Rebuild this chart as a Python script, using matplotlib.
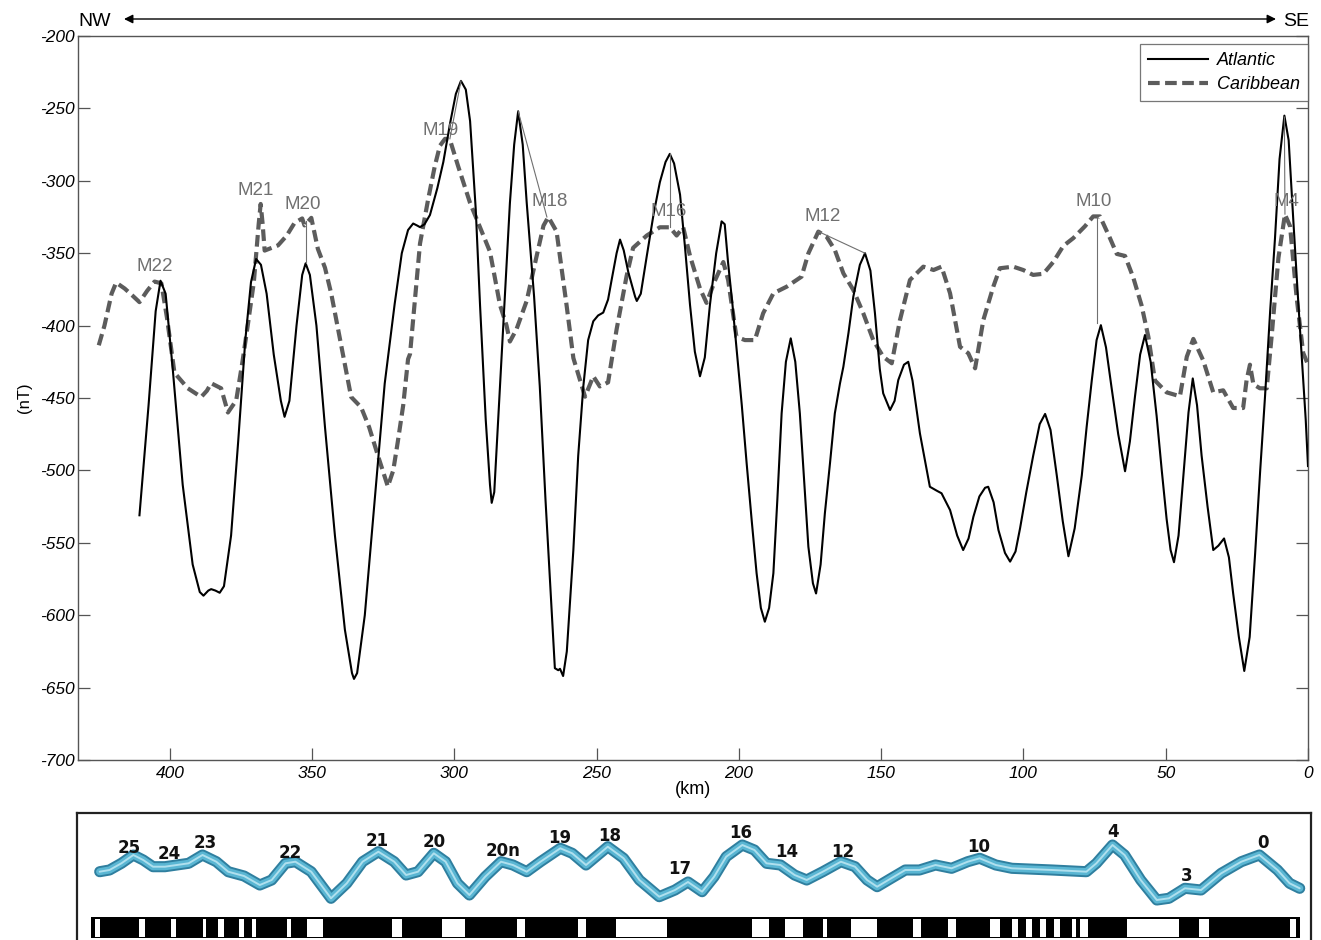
import matplotlib
matplotlib.use("Agg")
import matplotlib.pyplot as plt

# ---------------- data ----------------
atl_km = [410.7, 407.5, 405, 403.3, 401.5, 399, 395.5, 392, 389.5, 388.2, 386.5, 385.5, 384, 382.5, 381,
          378.5, 376, 373.5, 371.5, 369.7, 368, 366, 363.5, 361, 359.7, 358, 355.5, 353.5, 352.3, 350.8,
          348.5, 345.5, 342, 338.5, 336, 335.3, 334.2, 331.5, 328, 324.5, 321, 318.5, 316.3, 314.5, 313,
          312.1, 310.5, 308.6, 306, 303.9, 301.5, 299.5, 297.7, 296, 294.5, 292.5, 291, 289, 287.5, 286.9,
          286, 284, 282, 280.5, 279, 277.6, 276, 274.6, 272, 270, 268, 266, 264.7, 263.5, 262.9, 261.8,
          260.5, 258.2, 256.5, 254.7, 253, 251.2, 249.5, 247.7, 246, 244.8, 243, 241.8, 240.5, 238.9,
          236.5, 235.9, 234.5, 232.4, 230, 227.8, 225.8, 224.3, 222.8, 220.7, 219, 217.2, 215.5, 213.7,
          212, 210.2, 208, 206.1, 205, 203.8, 202.3, 200.9, 199, 197.3, 195.5, 193.8, 192.3, 190.9, 189.4,
          187.9, 186.5, 185, 183.5, 181.8, 180.2, 178.6, 177, 175.6, 174, 172.9, 171.3, 169.8, 168, 166.3,
          164.5, 163.3, 161.5, 159.8, 157.5, 155.7, 153.8, 152.2, 150.5, 149.3, 146.9, 145.3, 144, 142,
          140.5, 139, 136.4, 132.9, 130.5, 128.8, 125.8, 123.3, 121.2, 119.3, 117.6, 115.5, 113.5, 112.4,
          110.5, 108.8, 106.5, 104.7, 102.8, 101.2, 99, 96.6, 94.3, 92.4, 90.5, 88.3, 86.2, 84.2, 82, 79.5,
          77.8, 76, 74.3, 72.8, 71, 69, 66.7, 64.3, 62.6, 60.8, 59, 57.3, 55.3, 53.2, 51.4, 49.7, 48.3,
          47.1, 45.5, 43.8, 42, 40.5, 39, 37.4, 35.3, 33.3, 31.5, 29.5, 27.8, 26.3, 24.3, 22.4, 20.5, 18.6,
          16.8, 15.1, 13.3, 11.6, 10, 8.3, 6.8, 5.2, 3.7, 2.2, 0.8, 0]
atl_nt = [-531, -455, -390, -369, -378, -430, -510, -565, -584, -586.5, -583, -582, -583, -584.5, -580,
          -545, -480, -410, -370, -354, -358, -378, -420, -452, -463, -452, -400, -365, -357, -365,
          -400, -470, -545, -610, -640, -644, -640, -600, -520, -440, -385, -350, -334, -329.5, -331,
          -332, -330, -323.6, -305, -287, -260, -240, -231, -237, -258.7, -320, -385.8, -465, -510, -522.4,
          -515, -442, -370, -315.3, -275, -252, -275, -315, -380, -442, -520, -590, -636.6, -638, -637, -642,
          -625, -555, -490, -442, -410, -397, -393, -391, -382, -369, -350, -340.6, -348, -363,
          -380, -383, -378, -352, -323, -301, -287, -281.4, -288, -309.6, -345, -385.7, -418, -435,
          -422, -385.7, -350, -328, -330, -357, -385, -414.6, -455, -495, -535, -571, -595, -604.5, -595,
          -571, -520, -460.6, -425, -408.8, -425, -460.6, -510, -552.7, -578, -585, -565, -529.6, -495, -460.6,
          -440, -428.4, -405, -380, -358, -350, -362, -391.5, -430, -446.8, -458.3, -452, -437.6, -427,
          -425, -438, -474.4, -511.3, -514, -515.8, -527.4, -545, -555, -547, -532, -518, -512, -511.3,
          -522, -541.2, -557, -563, -556, -540, -515, -490, -468, -461, -472, -503.4, -535, -559.3, -540, -503.4,
          -470, -437.9, -410, -399.7, -415, -443.4, -475, -500.6, -480, -448.8, -420, -406.5, -425, -462.4, -500, -533.4, -555,
          -563.4, -545, -503.4, -460, -436.5, -455, -489.7, -525, -555, -552, -547, -560, -585, -615, -638.5, -615, -558,
          -500, -448.8, -390, -339.6, -285, -255, -272, -326, -375, -421.5, -465, -497]

car_km = [425, 423, 420.5, 418.9, 415.9, 413.3, 410.7, 408, 405.4, 403, 401, 398.4, 393.7, 389, 387, 385.5,
          382, 379.6, 376.7, 374.5, 372.6, 370.5, 368.8, 368.1, 367.4, 366.7, 362, 359, 356.2, 353.5, 352.7,
          350.3, 348, 345.5, 343.3, 339.8, 336.3, 332.8, 330, 326.9, 323.4, 321.5, 319.9, 318, 316.3, 315.6,
          312.1, 309.2, 306.9, 305.1, 303.3, 301.6, 298.7, 294.5, 291, 287.5, 284, 281.7, 280.5, 278.2,
          274.6, 271.1, 268.7, 267, 264.1, 260.6, 258.2, 254.1, 251.2, 248.9, 246, 243, 239.5, 237.2,
          232.4, 227.8, 224.3, 221.9, 219.6, 217.2, 213.7, 211.4, 208.4, 205.5, 203.8, 200.9, 197.9, 194.4,
          191.5, 187.9, 183.2, 178, 175.6, 172.1, 169.2, 166.3, 163.3, 159.8, 156.3, 152.8, 149.3, 146.3,
          143.4, 139.9, 135.2, 131.6, 128.8, 125.8, 122.3, 119.4, 117, 114.1, 110.6, 108.3, 103.6, 100.1,
          96.6, 93, 89.5, 86, 82.5, 78.4, 75.5, 73.1, 69.6, 67.2, 64.3, 61.4, 58.5, 56.1, 53.8, 49.7, 45,
          42.6, 40.3, 36.8, 33.3, 29.8, 26.3, 22.8, 21.6, 20.4, 19.2, 16.9, 14.5, 12.8, 10.4, 8.1, 6.3, 4,
          1.7, 0]
car_nt = [-413.6, -400, -378, -370.3, -374.4, -379, -383.8, -376, -369.6, -370.8, -395, -432.6, -443.3, -449.3, -445, -439.8,
          -443.3, -460, -451.7, -425, -399.3, -370, -330, -316, -330, -348.2, -344.6, -338, -329.1, -326, -330.8,
          -325.6, -347, -360, -377.9, -413.6, -449.3, -456.4, -470, -489.7, -511.1, -500, -480.2, -455, -423.2, -419.6,
          -343.4, -312.4, -289.9, -275.8, -271, -271.5, -289.9, -315.3, -332.1, -349, -385.7, -399.8, -411, -402.6,
          -382.9, -351.9, -331, -325, -335, -385.7, -422.4, -449.1, -435, -442, -439.2, -402.6, -365.9, -346.3,
          -337.8, -332.1, -332.1, -337.8, -332.1, -351.9, -374.4, -384.3, -368.8, -356.1, -368.5, -407.7, -410, -410,
          -391.5, -377.7, -373.1, -366.2, -350.1, -335.1, -338.6, -347.8, -363.9, -375.4, -391.5, -410, -421.5, -426,
          -396.1, -368.5, -359.3, -361.6, -359.3, -377.7, -414.6, -419.1, -429.5, -396.1, -373.1, -360.4, -359.3, -361.6,
          -365, -364.2, -356, -345, -339.6, -331.4, -324.6, -324.6, -339.6, -350.5, -351.9, -366.9, -386, -407.8, -437.9, -446.1, -448.8,
          -421.5, -409.2, -424.2, -446.1, -444.7, -456.9, -456.9, -437.9, -427, -440.5, -443.3, -443.3, -407.8, -353.3, -323.2, -331.4, -380.5,
          -418.8, -427]

anom_labels = ["M22", "M21", "M20", "M19", "M18", "M16", "M12", "M10", "M4"]
anom_km = [405.3, 369.8, 353.2, 304.7, 266.4, 224.6, 170.5, 75.2, 7.7]
anom_nt = [-359.5, -306.4, -316.7, -265.6, -314, -320.9, -325, -314, -314]
# connector segments (km1, nT1, km2, nT2)
connectors = [(352.3, -328, 352.3, -357), (301.6, -271, 297.7, -231), (277.6, -252, 267.5, -325),
              (224.3, -281, 224.3, -332), (172.1, -335, 155.7, -350), (74.3, -325, 74.3, -398),
              (8.3, -256, 8.1, -323)]

y_ticks = [-700, -650, -600, -550, -500, -450, -400, -350, -300, -250, -200]
x_ticks = [400, 350, 300, 250, 200, 150, 100, 50, 0]

# schematic model profile (lower panel, panel pixel units)
prof_x = [99.7, 109.5, 121.4, 133.3, 143.2, 153, 164.9, 176.8, 188.6, 202.5, 216.3, 228.2, 244, 259.8, 271.7,
          285.5, 295.4, 311.2, 331, 346.8, 362.6, 378.4, 394.2, 406.1, 418, 433.8, 445.6, 457.5, 469.4, 485.2,
          501, 512.9, 526.7, 540.5, 560.3, 572.2, 586, 607.8, 623.6, 639.4, 659.2, 675, 688, 702.1, 714.1,
          726.2, 742.3, 754.4, 766.5, 780.5, 794.6, 806.7, 822.8, 840.9, 855, 867.1, 877.1, 891.2, 905.3,
          919.4, 935.5, 951.6, 967.7, 979.7, 995.8, 1011.9, 1052.2, 1086.4, 1096.4, 1112.5, 1124.6, 1140.7,
          1156.8, 1168.9, 1184.9, 1201.1, 1221.2, 1241.3, 1259.4, 1277.5, 1289.6, 1299.7]
prof_y = [871.7, 870, 863.3, 855, 860, 866.7, 866.7, 865, 863.3, 855, 861.7, 871.7, 876, 885, 880,
          863.3, 861.7, 871.7, 898.3, 883.3, 861.7, 851.7, 861.7, 875, 871.7, 853.3, 861.7, 883.3, 895, 876.7,
          861.7, 865, 871.7, 861.7, 848.3, 853.3, 865, 846.7, 858.3, 880, 896.7, 890, 882, 891.7, 876.7,
          856.7, 845, 850, 863.3, 865, 875, 880, 871.7, 861.7, 866.7, 880, 886.7, 878.3, 870,
          870, 865, 868.3, 861.7, 858.3, 865, 868.3, 870, 871.7, 863.3, 845, 855, 880,
          900, 898.3, 888.3, 890, 873.3, 861.7, 855, 870, 883.3, 888.3]
chron_labels = ["25", "24", "23", "22", "21", "20", "20n", "19", "18", "17", "16", "14", "12", "10", "4", "3", "0"]
chron_x = [129, 169, 205, 290, 377, 434, 503, 560, 610, 680, 741, 787, 843, 979, 1113, 1187, 1263]
chron_y = [848, 854, 843, 853, 841, 842, 851, 838, 836, 869, 833, 852, 852, 847, 832, 876, 843]
# polarity bar: overall extent and white (reversed) intervals
bar_extent = (91, 1300)
bar_white = [(94.5, 99.7), (139.2, 145.1), (170.8, 176), (202.5, 206.4), (218.3, 224.2), (239.2, 244),
             (251.9, 255.8), (286.7, 291.4), (307.2, 323.1), (392.3, 402.2), (441.7, 465.4), (516.8, 524.7),
             (578.1, 586), (615.7, 667.1), (752.4, 768.5), (784.6, 802.7), (822.8, 826.8), (851, 877.1),
             (913.3, 921.4), (947.5, 955.6), (989.8, 999.9), (1011.9, 1017.9), (1026, 1032), (1040, 1046),
             (1054, 1060), (1071.5, 1075.5), (1080.3, 1088.4), (1126.6, 1178.9), (1199, 1209), (1289.6, 1295.6)]

# ---------------- figure ----------------
W, H = 1321, 940
fig = plt.figure(figsize=(W / 100, H / 100), dpi=100)
plt.rcParams['font.family'] = ['Liberation Sans', 'DejaVu Sans']

ax = fig.add_axes([78 / W, 1 - 760 / H, 1230 / W, 724 / H])
ax.plot(atl_km, atl_nt, color='black', lw=1.5, label='Atlantic', zorder=3)
ax.plot(car_km, car_nt, color='#5c5c5c', lw=3.0, linestyle=(0, (2.8, 1.3)), dash_capstyle='butt',
        label='Caribbean', zorder=2)
for (k1, n1, k2, n2) in connectors:
    ax.plot([k1, k2], [n1, n2], color='#707070', lw=0.8, zorder=4)
for lab, k, n in zip(anom_labels, anom_km, anom_nt):
    ax.text(k, n, lab, color='#707070', fontsize=13.5, ha='center', va='center', zorder=5)

ax.set_xlim(432.3, 0)
ax.set_ylim(-700, -200)
ax.set_xticks(x_ticks)
ax.set_yticks(y_ticks)
ax.set_xticklabels([str(v) for v in x_ticks], fontstyle='italic', fontsize=12.5)
ax.set_yticklabels([str(v) for v in y_ticks], fontstyle='italic', fontsize=12.5)
ax.tick_params(direction='in', length=8.5, width=0.9, color='#555555', right=True, pad=2)
ax.tick_params(axis='x', pad=4)
for s in ax.spines.values():
    s.set_color('#555555')
    s.set_linewidth(1.0)
ax.set_xlabel('(km)', fontsize=13, labelpad=0)
ax.set_ylabel('(nT)', fontsize=12, labelpad=6)

leg = ax.legend(loc='upper right', frameon=True, fancybox=False, edgecolor='#555555',
                prop={'style': 'italic', 'size': 13}, handlelength=3.3, borderaxespad=0,
                borderpad=0.45, labelspacing=0.4, handletextpad=0.5,
                bbox_to_anchor=(1.0, 1 - 8 / 724))
leg.get_frame().set_linewidth(0.9)

# NW / SE direction arrow
fig.text(95 / W, 1 - 21 / H, 'NW', fontsize=14, ha='center', va='center')
fig.text(1296 / W, 1 - 22 / H, 'SE', fontsize=14, ha='center', va='center')
fig.add_artist(matplotlib.patches.FancyArrowPatch((124 / W, 1 - 19 / H), (1276 / W, 1 - 19 / H),
               transform=fig.transFigure, arrowstyle='<|-|>', mutation_scale=13, color='black', lw=1.0,
               shrinkA=0, shrinkB=0))

# ---------------- lower schematic panel ----------------
ax2 = fig.add_axes([77 / W, 0, 1234 / W, 127 / H])
ax2.set_xlim(77, 1311)
ax2.set_ylim(940, 813)
ax2.set_xticks([])
ax2.set_yticks([])
for side in ['left', 'top', 'right']:
    ax2.spines[side].set_linewidth(1.6)
    ax2.spines[side].set_color('#222222')
ax2.spines['bottom'].set_visible(False)

ax2.plot(prof_x, prof_y, color='#2f7f9f', lw=8, solid_capstyle='round', solid_joinstyle='round')
ax2.plot(prof_x, prof_y, color='#5ab6d3', lw=5.2, solid_capstyle='round', solid_joinstyle='round')
ax2.plot(prof_x, prof_y, color='#b0e0ee', lw=1.4, solid_capstyle='round', solid_joinstyle='round')
for lab, x, y in zip(chron_labels, chron_x, chron_y):
    ax2.text(x, y, lab, fontsize=12, fontweight='bold', ha='center', va='center', color='#111111',
             family=['DejaVu Sans'])

ax2.broken_barh([(bar_extent[0], bar_extent[1] - bar_extent[0])], (917, 21), facecolors='black')
ax2.broken_barh([(a, b - a) for a, b in bar_white], (918.5, 18), facecolors='white')

fig.savefig('out.png', dpi=100)
